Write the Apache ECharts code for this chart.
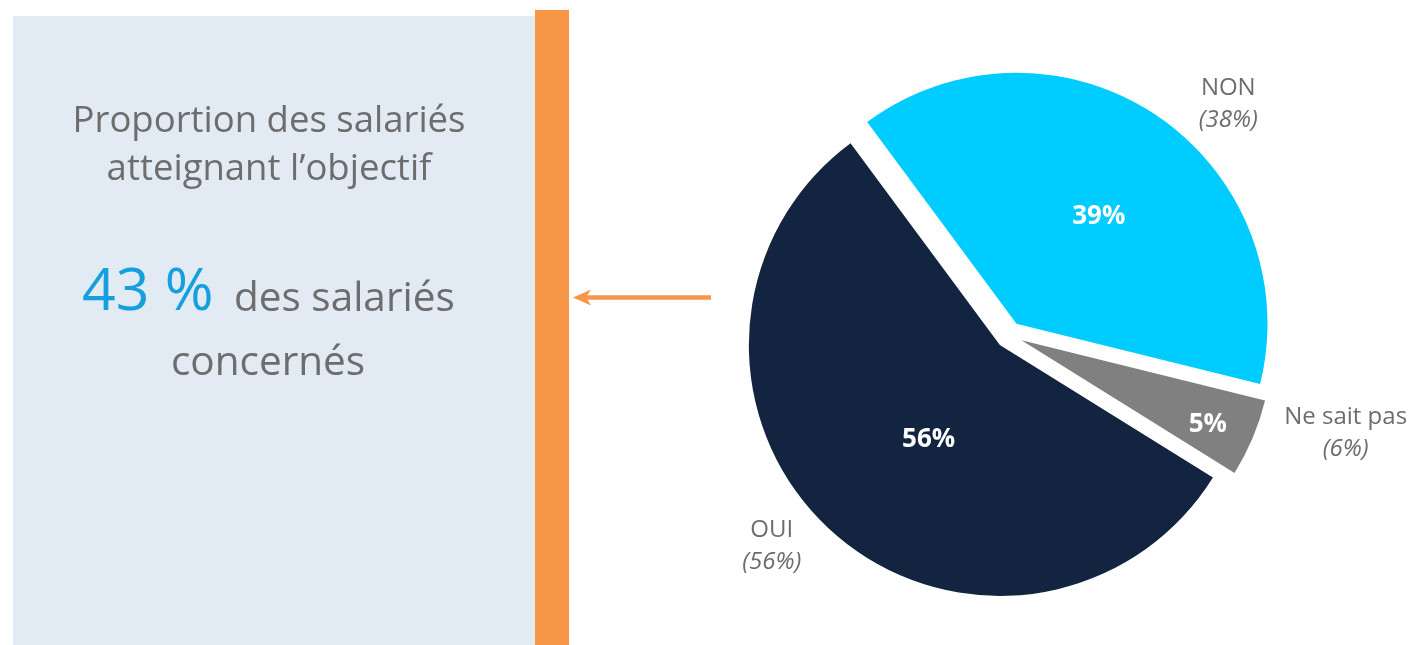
<!DOCTYPE html>
<html><head><meta charset="utf-8">
<script src="https://cdn.jsdelivr.net/npm/echarts@6/dist/echarts.min.js"></script>
<style>html,body{margin:0;padding:0;background:#fff}#c{width:1416px;height:645px}</style>
</head><body><div id="c"></div>
<script>
// ---- data ----
const categories = ['NON', 'Ne sait pas', 'OUI'];
const sliceValues = [39, 5, 56];
const bracketValues = [38, 6, 56];
const headlinePercent = 43;
const headlineTitle = ['Proportion des salariés', 'atteignant l’objectif'];
const headlineSuffix = 'des salariés';
const headlineLast = 'concernés';

// ---- styles ----
const sliceColors = ['#00ccff', '#808080', '#12243f'];
const FONT = '"Open Sans", sans-serif';
const GRAY = '#6d6d6d';
const ORANGE = '#f79646';
const CX = 1009, CY = 335, R = 251;
const innerLabelTweaks = [
  { padding: [0, 0, 14, 22] },
  { padding: [0, 0, 0, 136], formatter: '\n{c}%', lineHeight: 68 },
  { padding: [0, 0, 0, 32] }
];
const outerLineTweaks = [
  { length: 26, length2: 31 },
  { length: 0, length2: 39 },
  { length: 36, length2: 8 }
];

const chart = echarts.init(document.getElementById('c'), null, { renderer: 'canvas' });

const mainData = categories.map((name, i) => ({
  name, value: sliceValues[i], selected: true,
  itemStyle: { color: sliceColors[i] },
  select: { itemStyle: { color: sliceColors[i], borderWidth: 0 } },
  label: innerLabelTweaks[i]
}));
const outerData = categories.map((name, i) => ({
  name, value: sliceValues[i],
  labelLine: Object.assign({ show: false }, outerLineTweaks[i])
}));

const option = {
  animation: false,
  graphic: [
    { type: 'rect', shape: { x: 13, y: 16, width: 525, height: 629 }, style: { fill: '#e2eaf4' }, silent: true },
    { type: 'rect', shape: { x: 535, y: 10, width: 34, height: 635 }, style: { fill: ORANGE }, silent: true },
    { type: 'line', shape: { x1: 711, y1: 297.5, x2: 586, y2: 297.5 }, style: { stroke: ORANGE, lineWidth: 4.5 }, silent: true },
    { type: 'polygon', shape: { points: [[573, 297.5], [591, 289.5], [586, 297.5], [591, 305.5]] }, style: { fill: ORANGE }, silent: true },
    { type: 'text', x: 269, y: 146, silent: true,
      style: { text: headlineTitle.join('\n'), font: '36.5px ' + FONT, fill: GRAY, align: 'center', verticalAlign: 'middle', lineHeight: 48 } },
    { type: 'text', x: 82, y: 293, silent: true,
      style: { text: headlinePercent + ' %', font: '59px ' + FONT, fill: '#15a0dd', align: 'left', verticalAlign: 'middle' } },
    { type: 'text', x: 234, y: 299, silent: true,
      style: { text: headlineSuffix, font: '40.5px ' + FONT, fill: GRAY, align: 'left', verticalAlign: 'middle' } },
    { type: 'text', x: 268, y: 363, silent: true,
      style: { text: headlineLast, font: '40.5px ' + FONT, fill: GRAY, align: 'center', verticalAlign: 'middle' } }
  ],
  series: [
    {
      type: 'pie', center: [CX, CY], radius: R, startAngle: 126.5, clockwise: true,
      selectedMode: 'multiple', selectedOffset: 13.5, avoidLabelOverlap: false,
      emphasis: { disabled: true },
      itemStyle: { borderWidth: 0 },
      label: { show: true, position: 'inside', formatter: '{c}%', color: '#fff',
               fontFamily: FONT, fontWeight: 'bold', fontSize: 26 },
      labelLine: { show: false },
      data: mainData, z: 2
    },
    {
      type: 'pie', left: 0, top: 0, right: -300, bottom: 0,
      center: [CX, CY], radius: R, startAngle: 126.5, clockwise: true,
      silent: true, avoidLabelOverlap: false, selectedMode: false,
      emphasis: { disabled: true },
      itemStyle: { color: 'rgba(0,0,0,0)', borderWidth: 0 },
      label: {
        show: true, position: 'outside', overflow: 'none', bleedMargin: 0,
        formatter: p => `{n|${p.name}}\n{p|(${bracketValues[p.dataIndex]}%)}`,
        rich: {
          n: { fontFamily: FONT, fontSize: 24, color: GRAY, lineHeight: 32, align: 'center' },
          p: { fontFamily: FONT, fontSize: 24, fontStyle: 'italic', color: GRAY, lineHeight: 32, align: 'center' }
        }
      },
      labelLine: { show: false },
      data: outerData, z: 3
    }
  ]
};
chart.setOption(option);
</script></body></html>
